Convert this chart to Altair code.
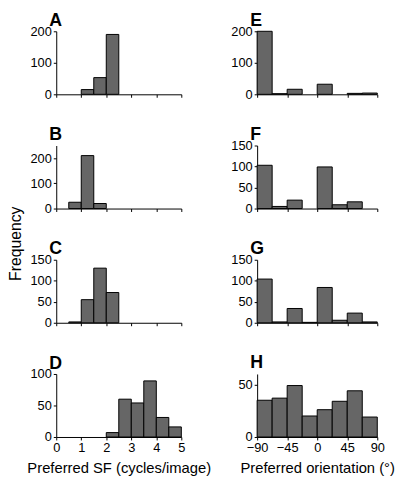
import altair as alt
import pandas as pd

# ---- data ----
sf_starts = [0.0, 0.5, 1.0, 1.5, 2.0, 2.5, 3.0, 3.5, 4.0, 4.5]
sf_width = 0.5
ori_starts = [-90, -67.5, -45, -22.5, 0, 22.5, 45, 67.5]
ori_width = 22.5

counts_A = [0, 0, 15, 53, 190, 0, 0, 0, 0, 0]
counts_B = [0, 25, 210, 20, 0, 0, 0, 0, 0, 0]
counts_C = [0, 2, 55, 130, 72, 0, 0, 0, 0, 0]
counts_D = [0, 0, 0, 0, 7, 60, 54, 89, 31, 16]

counts_E = [200, 2, 16, 0, 32, 0, 3, 4]
counts_F = [103, 5, 20, 0, 99, 9, 16, 0]
counts_G = [104, 2, 34, 1, 84, 6, 23, 2]
counts_H = [35, 37, 49, 20, 26, 34, 44, 19]

sf_ticks = [0, 1, 2, 3, 4, 5]
ori_ticks = [-90, -45, 0, 45, 90]
sf_title = "Preferred SF (cycles/image)"
ori_title = "Preferred orientation (°)"

FONT = "Liberation Sans"


def panel(starts, width, counts, letter, ymax, yticks, xdom, xticks, w,
          toff, xtitle=""):
    df = pd.DataFrame({
        "start": starts,
        "end": [s + width for s in starts],
        "count": counts,
    })
    df = df[df["count"] > 0]
    show = xtitle != ""
    axis_kw = dict(values=xticks, labels=show, labelFlush=False)
    axis_kw["title"] = xtitle if show else None
    return alt.Chart(df).mark_bar(
        fill="#666666", stroke="#000000", strokeWidth=1
    ).encode(
        x=alt.X("start:Q", scale=alt.Scale(domain=xdom, nice=False, zero=False),
                axis=alt.Axis(**axis_kw)),
        x2="end:Q",
        y=alt.Y("count:Q", scale=alt.Scale(domain=[0, ymax], nice=False),
                axis=alt.Axis(values=yticks, title=None)),
        y2=alt.datum(0),
    ).properties(
        width=w, height=64,
        title=alt.TitleParams(letter, anchor="start", frame="group", fontSize=18,
                              fontWeight="bold", font=FONT, dx=-7, offset=toff),
    )


LW = 127
RW = 122
pA = panel(sf_starts, sf_width, counts_A, "A", 200, [0, 100, 200], [0, 5], sf_ticks, LW, -4.5)
pB = panel(sf_starts, sf_width, counts_B, "B", 250, [0, 100, 200], [0, 5], sf_ticks, LW, 2)
pC = panel(sf_starts, sf_width, counts_C, "C", 150, [0, 50, 100, 150], [0, 5], sf_ticks, LW, -4.5)
pD = panel(sf_starts, sf_width, counts_D, "D", 100, [0, 50, 100], [0, 5], sf_ticks, LW, -4.5,
           sf_title)

pE = panel(ori_starts, ori_width, counts_E, "E", 200, [0, 100, 200], [-90, 90], ori_ticks, RW, -4.5)
pF = panel(ori_starts, ori_width, counts_F, "F", 150, [0, 50, 100, 150], [-90, 90], ori_ticks, RW, -4.5)
pG = panel(ori_starts, ori_width, counts_G, "G", 150, [0, 50, 100, 150], [-90, 90], ori_ticks, RW, -4.5)
pH = panel(ori_starts, ori_width, counts_H, "H", 60, [0, 50], [-90, 90], ori_ticks, RW, 2,
           ori_title)

left = alt.vconcat(pA, pB, pC, pD, spacing=25,
                   title=alt.TitleParams("Frequency", orient="left", anchor="middle",
                                         fontSize=16, fontWeight="normal", font=FONT,
                                         offset=3))
right = alt.vconcat(pE, pF, pG, pH, spacing=25)

chart = alt.hconcat(left, right, spacing=20).properties(
    padding={"left": 0, "top": 0, "right": 0, "bottom": 0}
).configure_view(stroke=None).configure_scale(
    continuousPadding=0
).configure_axis(
    grid=False,
    domainColor="#000000",
    tickColor="#000000",
    tickSize=3,
    labelFont=FONT,
    labelFontSize=13,
    labelColor="#000000",
    titleFont=FONT,
    titleFontSize=15,
    titleFontWeight="normal",
    titleColor="#000000",
    labelPadding=2,
    titlePadding=6,
)

chart.save("out.html", embed_options={"renderer": "svg", "actions": False})
